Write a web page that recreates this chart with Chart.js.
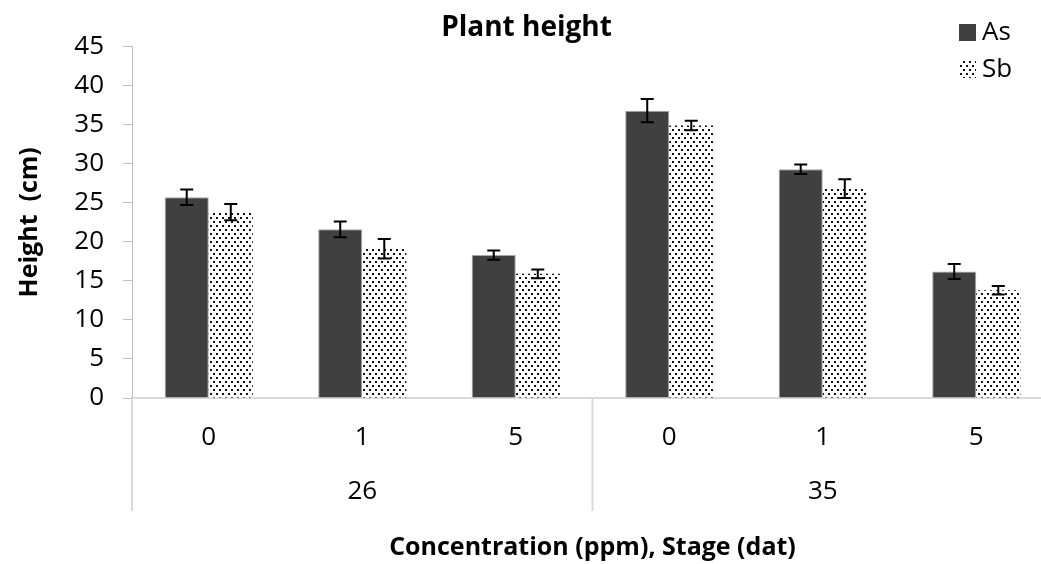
<!DOCTYPE html>
<html>
<head>
<meta charset="utf-8">
<script src="https://cdn.jsdelivr.net/npm/chart.js@4.4.1/dist/chart.umd.min.js"></script>
<style>
  html, body { margin: 0; padding: 0; background: #fff; overflow: hidden; }
  #wrap { width: 1065px; height: 564px; }
</style>
</head>
<body>
<div id="wrap"><canvas id="plantChart" width="1065" height="564"></canvas></div>
<script>
// values
const concentrations = ["0", "1", "5", "0", "1", "5"];
const stages = ["26", "35"];
const asHeight = [25.7, 21.6, 18.3, 36.8, 29.3, 16.2];
const asError = [1.0, 1.0, 0.6, 1.5, 0.6, 0.95];
const sbHeight = [23.8, 19.1, 15.9, 34.9, 26.8, 13.8];
const sbError = [1.05, 1.25, 0.55, 0.6, 1.2, 0.55];
const yTicks = [0, 5, 10, 15, 20, 25, 30, 35, 40, 45];

const FONT = "'Open Sans', 'Noto Sans', sans-serif";

// dotted fill for the Sb bars
function dotPattern() {
  const c = document.createElement("canvas");
  c.width = 6;
  c.height = 8;
  const g = c.getContext("2d");
  g.fillStyle = "#fff";
  g.fillRect(0, 0, 6, 8);
  g.fillStyle = "#111";
  g.fillRect(0, 1, 2, 2);
  g.fillRect(3, 5, 2, 2);
  return g.createPattern(c, "repeat");
}
const sbFill = dotPattern();

const errorBars = {
  id: "errorBars",
  afterDatasetsDraw(chart) {
    const ctx = chart.ctx;
    const y = chart.scales.y;
    const errs = [asError, sbError];
    ctx.save();
    ctx.strokeStyle = "#000";
    ctx.lineWidth = 2;
    chart.data.datasets.forEach((ds, i) => {
      chart.getDatasetMeta(i).data.forEach((bar, j) => {
        const v = ds.data[j], e = errs[i][j];
        const top = y.getPixelForValue(v + e);
        const bot = y.getPixelForValue(v - e);
        ctx.beginPath();
        ctx.moveTo(bar.x, top); ctx.lineTo(bar.x, bot);
        ctx.moveTo(bar.x - 6.5, top); ctx.lineTo(bar.x + 6.5, top);
        ctx.moveTo(bar.x - 6.5, bot); ctx.lineTo(bar.x + 6.5, bot);
        ctx.stroke();
      });
    });
    ctx.restore();
  }
};

// group separators under the axis + the legend box in the top right
const decorations = {
  id: "decorations",
  afterDraw(chart) {
    const ctx = chart.ctx;
    const area = chart.chartArea;
    const x = chart.scales.x;
    const mid = (x.getPixelForValue(2) + x.getPixelForValue(3)) / 2;
    ctx.save();
    ctx.strokeStyle = "#d9d9d9";
    ctx.lineWidth = 2;
    [area.left, mid, area.right].forEach(px => {
      ctx.beginPath();
      ctx.moveTo(px, area.bottom);
      ctx.lineTo(px, 511);
      ctx.stroke();
    });

    ctx.font = "26px " + FONT;
    ctx.textBaseline = "middle";
    chart.data.datasets.forEach((ds, i) => {
      const top = 24 + i * 37;
      ctx.fillStyle = ds.backgroundColor;
      ctx.fillRect(959, top, 17, 17);
      ctx.fillStyle = "#000";
      ctx.fillText(ds.label, 982, top + 9);
    });
    ctx.restore();
  }
};

new Chart(document.getElementById("plantChart"), {
  type: "bar",
  data: {
    labels: concentrations,
    datasets: [
      {
        label: "As",
        data: asHeight,
        backgroundColor: "#404040",
        borderColor: "#a6a6a6",
        borderWidth: 1
      },
      {
        label: "Sb",
        data: sbHeight,
        backgroundColor: sbFill,
        borderWidth: 0
      }
    ]
  },
  options: {
    responsive: false,
    animation: false,
    layout: { padding: { left: 0, right: 12, top: 0, bottom: 0 } },
    datasets: {
      bar: { categoryPercentage: 0.574, barPercentage: 1 }
    },
    plugins: {
      legend: { display: false },
      tooltip: { enabled: false },
      title: {
        display: true,
        text: "Plant height",
        color: "#000",
        font: { family: FONT, size: 28, weight: "bold" },
        padding: { top: 11, bottom: 2 }
      }
    },
    scales: {
      x: {
        afterFit(scale) { scale.height = 54; },
        grid: { display: false, drawTicks: false },
        border: { display: true, color: "#d9d9d9", width: 2 },
        ticks: {
          color: "#000",
          font: { family: FONT, size: 26 },
          padding: 24,
          maxRotation: 0
        }
      },
      x2: {
        type: "category",
        position: "bottom",
        labels: stages,
        offset: true,
        afterFit(scale) { scale.height = 112; },
        grid: { display: false, drawTicks: false },
        border: { display: false },
        ticks: {
          color: "#000",
          font: { family: FONT, size: 26 },
          padding: 24,
          maxRotation: 0
        },
        title: {
          display: true,
          text: "Concentration (ppm), Stage (dat)",
          color: "#000",
          font: { family: FONT, size: 25, weight: "bold" },
          padding: { top: 10, bottom: 1 }
        }
      },
      y: {
        min: 0,
        max: 45,
        afterBuildTicks(scale) {
          scale.ticks = yTicks.map(v => ({ value: v }));
        },
        afterFit(scale) { scale.width = 132; },
        grid: { drawOnChartArea: false, tickLength: 9, color: "#bfbfbf" },
        border: { color: "#bfbfbf", width: 1 },
        ticks: {
          color: "#000",
          font: { family: FONT, size: 26 },
          padding: 19
        },
        title: {
          display: true,
          text: "Height  (cm)",
          color: "#000",
          font: { family: FONT, size: 25, weight: "bold" },
          padding: { top: 15, bottom: 0 }
        }
      }
    }
  },
  plugins: [errorBars, decorations]
});
</script>
</body>
</html>
